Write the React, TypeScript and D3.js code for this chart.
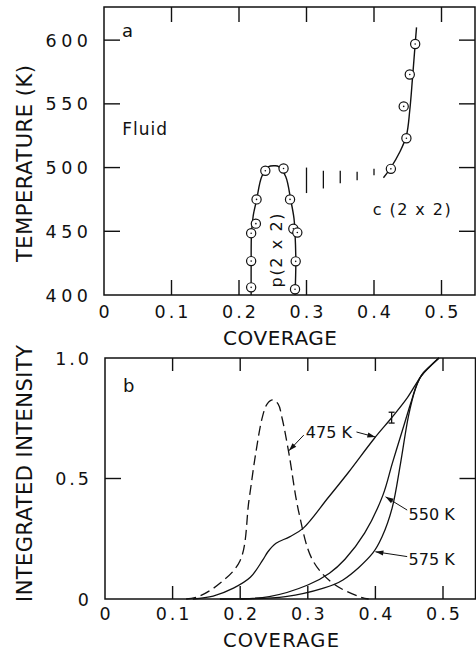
import React from "react";
import * as d3 from "d3";

const FONT = "'DejaVu Sans', 'Liberation Sans', sans-serif";

// ---------- Panel a data ----------
const xTicks = [0, 0.1, 0.2, 0.3, 0.4, 0.5];
const xTickLabels = ["0", "0.1", "0.2", "0.3", "0.4", "0.5"];
const tTicks = [400, 450, 500, 550, 600];
const tTickLabels = ["400", "450", "500", "550", "600"];

const p2x2Points: [number, number][] = [
  [0.218, 406], [0.218, 426.6], [0.218, 448.5], [0.225, 456], [0.226, 475],
  [0.239, 497.5], [0.266, 499.3], [0.2756, 475], [0.2805, 452], [0.2864, 449],
  [0.284, 426.4], [0.283, 404.5],
];
const p2x2Curve: [number, number][] = [
  [0.218, 400], [0.218, 425], [0.2185, 448], [0.221, 462], [0.2262, 475],
  [0.2336, 492.8], [0.2434, 500.6], [0.2533, 501.4], [0.2593, 500.6],
  [0.2693, 492.8], [0.2766, 474.7], [0.2815, 460], [0.283, 448.5],
  [0.2842, 425], [0.283, 400],
];
const c2x2Points: [number, number][] = [
  [0.461, 597], [0.453, 573], [0.444, 548], [0.448, 523], [0.425, 499],
];
const c2x2Curve: [number, number][] = [
  [0.414, 492], [0.425, 500], [0.438, 512], [0.448, 525], [0.453, 545],
  [0.457, 570], [0.461, 597], [0.463, 610],
];
const dashX = [0.3, 0.325, 0.35, 0.375, 0.4];
const dashTop = [500, 497.5, 497.5, 496.7, 499];
const dashBottom = [480, 483.6, 487.6, 490, 494];

// ---------- Panel b data ----------
const iTicks = [0, 0.5, 1.0];
const iTickLabels = ["0", "0.5", "1.0"];

const curve475: [number, number][] = [
  [0.13, 0], [0.16, 0.012], [0.19, 0.045], [0.215, 0.09], [0.233, 0.16],
  [0.241, 0.196], [0.253, 0.231], [0.273, 0.258], [0.293, 0.293],
  [0.33, 0.42], [0.36, 0.525], [0.398, 0.665], [0.424, 0.752],
  [0.446, 0.83], [0.467, 0.922], [0.48, 0.963], [0.494, 1.0],
];
const curve550: [number, number][] = [
  [0.17, 0], [0.243, 0.01], [0.3, 0.058], [0.332, 0.107], [0.355, 0.165],
  [0.384, 0.273], [0.411, 0.43], [0.425, 0.563], [0.44, 0.7], [0.452, 0.81],
  [0.462, 0.895], [0.47, 0.935], [0.481, 0.966], [0.494, 1.0],
];
const curve575: [number, number][] = [
  [0.2, 0], [0.267, 0.01], [0.322, 0.044], [0.352, 0.079], [0.396, 0.19],
  [0.41, 0.259], [0.425, 0.38], [0.437, 0.56], [0.449, 0.76], [0.459, 0.87],
  [0.468, 0.928], [0.481, 0.966], [0.494, 1.0],
];
const curveDashed: [number, number][] = [
  [0.12, 0], [0.138, 0.01], [0.17, 0.065], [0.2, 0.16], [0.213, 0.41],
  [0.223, 0.605], [0.233, 0.757], [0.24, 0.81], [0.248, 0.826], [0.256, 0.81],
  [0.262, 0.75], [0.272, 0.605], [0.287, 0.356], [0.307, 0.162],
  [0.337, 0.065], [0.376, 0.01], [0.39, 0],
];
const errorBarX = 0.424;
const errorBarLow = 0.73;
const errorBarHigh = 0.775;

// annotations: [x1, y1, x2(head), y2(head)]
const arrows: [number, number, number, number][] = [
  [0.294, 0.68, 0.272, 0.615],
  [0.372, 0.693, 0.4, 0.672],
  [0.447, 0.369, 0.415, 0.424],
  [0.447, 0.176, 0.4, 0.196],
];
const curveLabels = ["475 K", "550 K", "575 K"];
const curveLabelX = [0.297, 0.449, 0.449];
const curveLabelY = [0.668, 0.328, 0.141];

// ---------- layout ----------
const W = 476;
const H = 653;
const A = { left: 104, right: 475, top: 7, bottom: 295 };
const B = { left: 105, right: 475.5, top: 358, bottom: 599 };

export default function App() {
  const xa = d3.scaleLinear().domain([0, 0.55]).range([A.left, A.left + 0.55 * 675]);
  const ya = d3.scaleLinear().domain([400, 626]).range([A.bottom, A.top]);
  const xb = d3.scaleLinear().domain([0, 0.55]).range([B.left, B.left + 0.55 * 676]);
  const yb = d3.scaleLinear().domain([0, 1]).range([B.bottom, B.top]);

  const lineA = d3.line<[number, number]>().x((d) => xa(d[0])).y((d) => ya(d[1])).curve(d3.curveCatmullRom.alpha(0.5));
  const lineB = d3.line<[number, number]>().x((d) => xb(d[0])).y((d) => yb(d[1])).curve(d3.curveCatmullRom.alpha(0.5));

  const tickLen = 15;
  const stroke = "#111";

  const marker = (p: [number, number], i: number) => (
    <g key={i}>
      <circle cx={xa(p[0])} cy={ya(p[1])} r={4.6} fill="#fff" stroke={stroke} strokeWidth={1.2} />
      <circle cx={xa(p[0])} cy={ya(p[1])} r={0.8} fill={stroke} />
    </g>
  );

  const arrowHead = (x1: number, y1: number, x2: number, y2: number) => {
    const ang = Math.atan2(y2 - y1, x2 - x1);
    const L = 8, Wd = 2.6;
    const bx = x2 - L * Math.cos(ang), by = y2 - L * Math.sin(ang);
    const px = -Math.sin(ang) * Wd, py = Math.cos(ang) * Wd;
    return `M${x2},${y2}L${bx + px},${by + py}L${bx - px},${by - py}Z`;
  };

  return (
    <svg width={W} height={H} style={{ position: "absolute", left: 0, top: 0, background: "#fff" }} fontFamily={FONT}>
      <rect x={0} y={0} width={W} height={H} fill="#fff" />
      {/* ===== Panel a ===== */}
      <rect x={A.left} y={A.top} width={A.right - A.left} height={A.bottom - A.top} fill="none" stroke={stroke} strokeWidth={1.5} />
      {xTicks.slice(1).map((t, i) => (
        <g key={"ax" + i} stroke={stroke} strokeWidth={1.4}>
          <line x1={xa(t)} x2={xa(t)} y1={A.bottom} y2={A.bottom - tickLen} />
          <line x1={xa(t)} x2={xa(t)} y1={A.top} y2={A.top + tickLen} />
        </g>
      ))}
      {tTicks.slice(1).map((t, i) => (
        <g key={"ay" + i} stroke={stroke} strokeWidth={1.4}>
          <line x1={A.left} x2={A.left + 16} y1={ya(t)} y2={ya(t)} />
          <line x1={A.right} x2={A.right - 16} y1={ya(t)} y2={ya(t)} />
        </g>
      ))}
      {xTicks.map((t, i) => (
        <text key={"axl" + i} x={xa(t) + 1.5} y={318} fontSize={17.5} letterSpacing={3} textAnchor="middle" fill={stroke}>
          {xTickLabels[i]}
        </text>
      ))}
      {tTicks.map((t, i) => (
        <text key={"ayl" + i} x={88 + 4.5} y={ya(t) + 6.5} fontSize={17.5} letterSpacing={4.5} textAnchor="end" fill={stroke}>
          {tTickLabels[i]}
        </text>
      ))}
      <text x={280} y={345} fontSize={20} textAnchor="middle" textLength={114} lengthAdjust="spacing" fill={stroke}>COVERAGE</text>
      <text transform={`translate(32,${163.5}) rotate(-90)`} fontSize={21} textAnchor="middle" textLength={197} lengthAdjust="spacing" fill={stroke}>TEMPERATURE (K)</text>
      <text x={122} y={37} fontSize={18} fill={stroke}>a</text>
      <text x={xa(0.027)} y={ya(525.4)} fontSize={17} letterSpacing={1} fill={stroke}>Fluid</text>

      <path d={lineA(p2x2Curve) || ""} fill="none" stroke={stroke} strokeWidth={1.4} />
      <path d={lineA(c2x2Curve) || ""} fill="none" stroke={stroke} strokeWidth={1.4} />
      {dashX.map((x, i) => (
        <line key={"dv" + i} x1={xa(x)} x2={xa(x)} y1={ya(dashTop[i])} y2={ya(dashBottom[i])} stroke={stroke} strokeWidth={1.3} />
      ))}
      {p2x2Points.map(marker)}
      {c2x2Points.map((p, i) => marker(p, 100 + i))}
      <text transform={`translate(${xa(0.255) + 6},${ya(435)}) rotate(-90)`} fontSize={16} textAnchor="middle" textLength={74} lengthAdjust="spacing" fill={stroke}>p(2 x 2)</text>
      <text x={xa(0.398)} y={ya(462.7)} fontSize={16} textLength={78} lengthAdjust="spacing" fill={stroke}>c (2 x 2)</text>

      {/* ===== Panel b ===== */}
      <rect x={B.left} y={B.top} width={B.right - B.left} height={B.bottom - B.top} fill="none" stroke={stroke} strokeWidth={1.5} />
      {xTicks.slice(1).map((t, i) => (
        <g key={"bx" + i} stroke={stroke} strokeWidth={1.4}>
          <line x1={xb(t)} x2={xb(t)} y1={B.bottom} y2={B.bottom - 13} />
          <line x1={xb(t)} x2={xb(t)} y1={B.top} y2={B.top + 13} />
        </g>
      ))}
      <g stroke={stroke} strokeWidth={1.4}>
        <line x1={B.left} x2={B.left + 16} y1={yb(0.5)} y2={yb(0.5)} />
        <line x1={B.right} x2={B.right - 16} y1={yb(0.5)} y2={yb(0.5)} />
      </g>
      {xTicks.map((t, i) => (
        <text key={"bxl" + i} x={xb(t) + 1.5} y={620} fontSize={17.5} letterSpacing={3} textAnchor="middle" fill={stroke}>
          {xTickLabels[i]}
        </text>
      ))}
      {iTicks.map((t, i) => (
        <text key={"byl" + i} x={89 + 3} y={yb(t) + 6.5} fontSize={17.5} letterSpacing={3} textAnchor="end" fill={stroke}>
          {iTickLabels[i]}
        </text>
      ))}
      <text x={281} y={647} fontSize={19.5} textAnchor="middle" textLength={116} lengthAdjust="spacing" fill={stroke}>COVERAGE</text>
      <text transform={`translate(32,${473.5}) rotate(-90)`} fontSize={21} textAnchor="middle" textLength={257} lengthAdjust="spacing" fill={stroke}>INTEGRATED INTENSITY</text>
      <text x={123} y={392} fontSize={18} fill={stroke}>b</text>

      <path d={lineB(curve475) || ""} fill="none" stroke={stroke} strokeWidth={1.3} />
      <path d={lineB(curve550) || ""} fill="none" stroke={stroke} strokeWidth={1.3} />
      <path d={lineB(curve575) || ""} fill="none" stroke={stroke} strokeWidth={1.3} />
      <path d={lineB(curveDashed) || ""} fill="none" stroke={stroke} strokeWidth={1.3} strokeDasharray="10,5" />
      <g stroke={stroke} strokeWidth={1.3}>
        <line x1={xb(errorBarX)} x2={xb(errorBarX)} y1={yb(errorBarLow)} y2={yb(errorBarHigh)} />
        <line x1={xb(errorBarX) - 3} x2={xb(errorBarX) + 3} y1={yb(errorBarLow)} y2={yb(errorBarLow)} />
        <line x1={xb(errorBarX) - 3} x2={xb(errorBarX) + 3} y1={yb(errorBarHigh)} y2={yb(errorBarHigh)} />
      </g>
      {arrows.map((a, i) => {
        const x1 = xb(a[0]), y1 = yb(a[1]), x2 = xb(a[2]), y2 = yb(a[3]);
        return (
          <g key={"ar" + i}>
            <line x1={x1} y1={y1} x2={x2} y2={y2} stroke={stroke} strokeWidth={1} />
            <path d={arrowHead(x1, y1, x2, y2)} fill={stroke} />
          </g>
        );
      })}
      {curveLabels.map((l, i) => (
        <text key={"cl" + i} x={xb(curveLabelX[i])} y={yb(curveLabelY[i])} fontSize={16} fill={stroke}>{l}</text>
      ))}
    </svg>
  );
}
